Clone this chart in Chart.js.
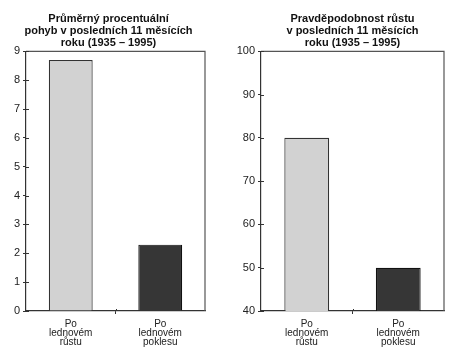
<!DOCTYPE html>
<html><head><meta charset="utf-8">
<script src="https://cdn.jsdelivr.net/npm/chart.js@4/dist/chart.umd.min.js"></script>
<style>
html,body{margin:0;padding:0;background:#fff;}
#w1{position:absolute;left:12px;top:0;width:204px;height:356px;}
#w2{position:absolute;left:234px;top:0;width:234px;height:356px;}
</style></head><body>
<div id="w1"><canvas id="c1"></canvas></div>
<div id="w2"><canvas id="c2"></canvas></div>
<script>
const categories = [["Po","lednovém","růstu"],["Po","lednovém","poklesu"]];
const avgMove = [8.7, 2.3];
const probGrowth = [80, 50];
const title1 = ["Průměrný procentuální","pohyb v posledních 11 měsících","roku (1935 – 1995)"];
const title2 = ["Pravděpodobnost růstu","v posledních 11 měsících","roku (1935 – 1995)"];
const yRange1 = {min:0, max:9, step:1};
const yRange2 = {min:40, max:100, step:10};

const FONT = "'Liberation Sans', Arial, Helvetica, sans-serif";
const frame = {
  id:'frame',
  afterDraw(chart){
    const a = chart.chartArea, c = chart.ctx;
    c.save(); c.strokeStyle='#555'; c.lineWidth=1.2;
    c.beginPath();
    c.moveTo(a.left, a.top); c.lineTo(a.right, a.top); c.lineTo(a.right, a.bottom);
    c.stroke();
    // inward halves of the tick marks (ticks cross the axes)
    c.strokeStyle='#333'; c.lineWidth=1;
    const ys = chart.scales.y, xs = chart.scales.x;
    c.beginPath();
    ys.ticks.forEach((t,i)=>{ const y=Math.round(ys.getPixelForTick(i))+0.5; c.moveTo(a.left, y); c.lineTo(a.left+3, y); });
    for (let i=1;i<xs.ticks.length;i++){
      const x=Math.round((xs.getPixelForTick(i-1)+xs.getPixelForTick(i))/2)+0.5;
      c.moveTo(x, a.bottom); c.lineTo(x, a.bottom-2);
    }
    c.stroke(); c.restore();
  }
};
function make(id, data, title, rng, yw, padR, fullTitle){
  return new Chart(document.getElementById(id), {
    type:'bar',
    data:{labels:categories, datasets:[{data:data,
      backgroundColor:['#d2d2d2','#363636'], borderColor:['#333','#111'], borderWidth:1.2,
      barPercentage:0.49, categoryPercentage:1}]},
    options:{
      responsive:true, maintainAspectRatio:false, animation:false,
      layout:{padding:{left:0,right:padR,top:0,bottom:0}},
      plugins:{legend:{display:false}, tooltip:{enabled:false},
        title:{display:true, text:title, fullSize:fullTitle, color:'#111',
          font:{family:FONT,size:11,weight:'bold',lineHeight:1.1}, padding:{top:13,bottom:2}}},
      scales:{
        x:{grid:{drawOnChartArea:false, tickLength:3, offset:true,
             color:(ctx)=>ctx.index===1?'#333':'rgba(0,0,0,0)'},
           border:{color:'#333', width:1.2},
           ticks:{color:'#222', padding:6, font:{family:FONT,size:10,lineHeight:0.9}},
           afterFit:(s)=>{s.height=45;}},
        y:{min:rng.min, max:rng.max,
           grid:{drawOnChartArea:false, tickLength:3, color:'#333'},
           border:{color:'#333', width:1.2},
           ticks:{stepSize:rng.step, color:'#222', padding:3, font:{family:FONT,size:11}},
           afterFit:(s)=>{s.width=yw;}}
      }
    },
    plugins:[frame]
  });
}
make('c1', avgMove, title1, yRange1, 14, 11, true);
make('c2', probGrowth, title2, yRange2, 27, 24, false);
</script>
</body></html>
